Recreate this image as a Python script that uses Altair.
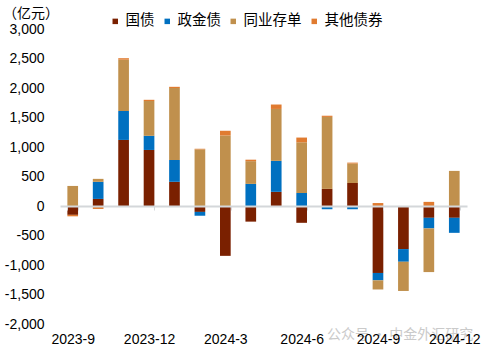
import altair as alt
import pandas as pd

months = ["2023-9", "2023-10", "2023-11", "2023-12", "2024-1", "2024-2", "2024-3", "2024-4",
          "2024-5", "2024-6", "2024-7", "2024-8", "2024-9", "2024-10", "2024-11", "2024-12"]
series = ["国债", "政金债", "同业存单", "其他债券"]
colors = ["#7A2000", "#0070C0", "#C0904D", "#E07B30"]

guozhai = [-150, 120, 1120, 950, 410, -100, -845, -265, 240, -285, 290, 390, -1135, -730, -200, -200]
zhengjin = [0, 290, 490, 240, 370, -65, 0, 375, 525, 220, -55, -55, -125, -215, -180, -255]
tongye = [340, 50, 870, 590, 1220, 960, 1195, 385, 880, 860, 1220, 330, -155, -495, -740, 595]
qita = [-25, -50, 25, 20, 20, 10, 80, 25, 75, 80, 20, 15, 50, 0, 70, 0]

tick_labels = ["2023-9", "2023-12", "2024-3", "2024-6", "2024-9", "2024-12"]
y_ticks = list(range(-2000, 3001, 500))

rows = []
for i, m in enumerate(months):
    for k, vals in enumerate([guozhai, zhengjin, tongye, qita]):
        rows.append({"month": m, "series": series[k], "value": vals[i], "order": k})
df = pd.DataFrame(rows)

FONT = "Liberation Sans, Noto Sans CJK SC, sans-serif"
CJK = "Noto Sans CJK SC, sans-serif"

bars = alt.Chart(df).mark_bar().encode(
    x=alt.X("month:N", sort=months,
            scale=alt.Scale(paddingInner=0.58, paddingOuter=0.29),
            axis=alt.Axis(values=tick_labels, title=None, labelAngle=0, offset=-118, zindex=1,
                          domainColor="#D4D7DA", domainWidth=2, tickColor="#D4D7DA", tickWidth=1,
                          tickSize=4, tickBand="extent", labelPadding=122, labelFontSize=14,
                          labelFont=FONT, labelColor="#000000")),
    y=alt.Y("value:Q", stack="zero",
            scale=alt.Scale(domain=[-2000, 3000], nice=False, zero=False),
            axis=alt.Axis(values=y_ticks, ticks=False, domain=False, grid=False, labelPadding=16,
                          labelFontSize=14, labelFont=FONT, labelColor="#000000", title=None,
                          labelExpr="replace(format(datum.value, ','), '\u2212', '-')")),
    color=alt.Color("series:N", sort=series,
                    scale=alt.Scale(domain=series, range=colors),
                    legend=alt.Legend(title=None, orient="none", direction="horizontal",
                                      legendX=48, legendY=-15, symbolType="square", symbolSize=30,
                                      symbolStrokeWidth=0, labelFontSize=14.5, labelFont=CJK,
                                      labelColor="#000000", labelOffset=3, columnPadding=5,
                                      padding=0)),
    order=alt.Order("order:Q"),
)

unit = alt.Chart(pd.DataFrame({"t": ["（亿元）"]})).mark_text(
    align="left", baseline="middle", fontSize=14, font=CJK, color="#000000"
).encode(text="t:N", x=alt.value(-57), y=alt.value(-15))

wm = alt.Chart(pd.DataFrame({"t": ["公众号 · 中金外汇研究"]})).mark_text(
    align="left", baseline="middle", fontSize=14, font=CJK, color="#BDBDBD", opacity=0.8
).encode(text="t:N", x=alt.value(267), y=alt.value(306))

chart = alt.layer(bars, unit, wm).properties(
    width=407, height=295,
    padding={"left": 60, "top": 29, "right": 18, "bottom": 29},
    autosize=alt.AutoSizeParams(type="none"),
).configure_view(stroke=None)

chart.save("out.html", embed_options={"renderer": "svg", "actions": False})
